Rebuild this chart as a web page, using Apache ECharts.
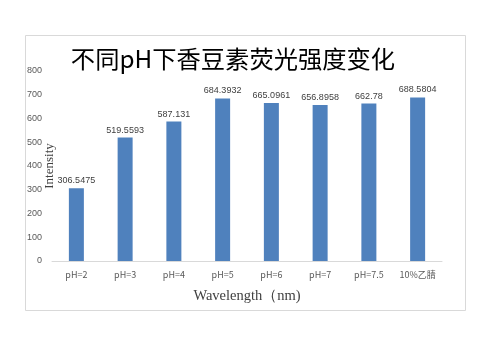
<!DOCTYPE html>
<html><head><meta charset="utf-8">
<script src="https://cdn.jsdelivr.net/npm/echarts@6/dist/echarts.min.js"></script>
<style>html,body{margin:0;padding:0;background:#fff}#c{width:480px;height:360px}</style>
</head><body><div id="c"></div>
<script>
var categories = ['pH=2','pH=3','pH=4','pH=5','pH=6','pH=7','pH=7.5','10%乙腈'];
var intensity = [306.5475, 519.5593, 587.131, 684.3932, 665.0961, 656.8958, 662.78, 688.5804];
var yTicks = {min: 0, max: 800, interval: 100};
var chart = echarts.init(document.getElementById('c'), null, {renderer: 'canvas'});
chart.setOption({
  backgroundColor: '#fff',
  animation: false,
  graphic: [{type: 'rect', shape: {x: 25.5, y: 35.5, width: 440, height: 275}, style: {fill: 'none', stroke: '#d9d9d9', lineWidth: 1}, z: -1}],
  title: {text: '不同pH下香豆素荧光强度变化', left: 228, top: 42, textAlign: 'center',
    textStyle: {fontFamily: 'Noto Sans CJK SC', fontSize: 24.3, fontWeight: 'normal', color: '#000'}},
  grid: {left: 52, right: 38, top: 71, bottom: 99},
  xAxis: {type: 'category', data: categories,
    axisLine: {lineStyle: {color: '#d9d9d9'}}, axisTick: {show: false},
    axisLabel: {color: '#595959', fontSize: 9, margin: 9, fontFamily: 'Noto Sans CJK SC'},
    name: 'Wavelength（nm)', nameLocation: 'middle', nameGap: 28,
    nameTextStyle: {fontFamily: 'Liberation Serif', fontSize: 14.5, color: '#404040'}},
  yAxis: {type: 'value', min: yTicks.min, max: yTicks.max, interval: yTicks.interval,
    axisLine: {show: false}, axisTick: {show: false}, splitLine: {show: false},
    axisLabel: {color: '#595959', fontSize: 9, margin: 10},
    name: 'Intensity', nameLocation: 'middle', nameGap: 2, nameRotate: 90, nameMoveOverlap: false,
    nameTextStyle: {fontFamily: 'Liberation Serif', fontSize: 13, color: '#404040', verticalAlign: 'middle'}},
  series: [{type: 'bar', data: intensity, barWidth: 15,
    itemStyle: {color: '#4f81bd'},
    label: {show: true, position: 'top', fontSize: 9, color: '#404040', distance: 3,
      formatter: function(p){return String(p.value);}}}]
});
</script></body></html>
